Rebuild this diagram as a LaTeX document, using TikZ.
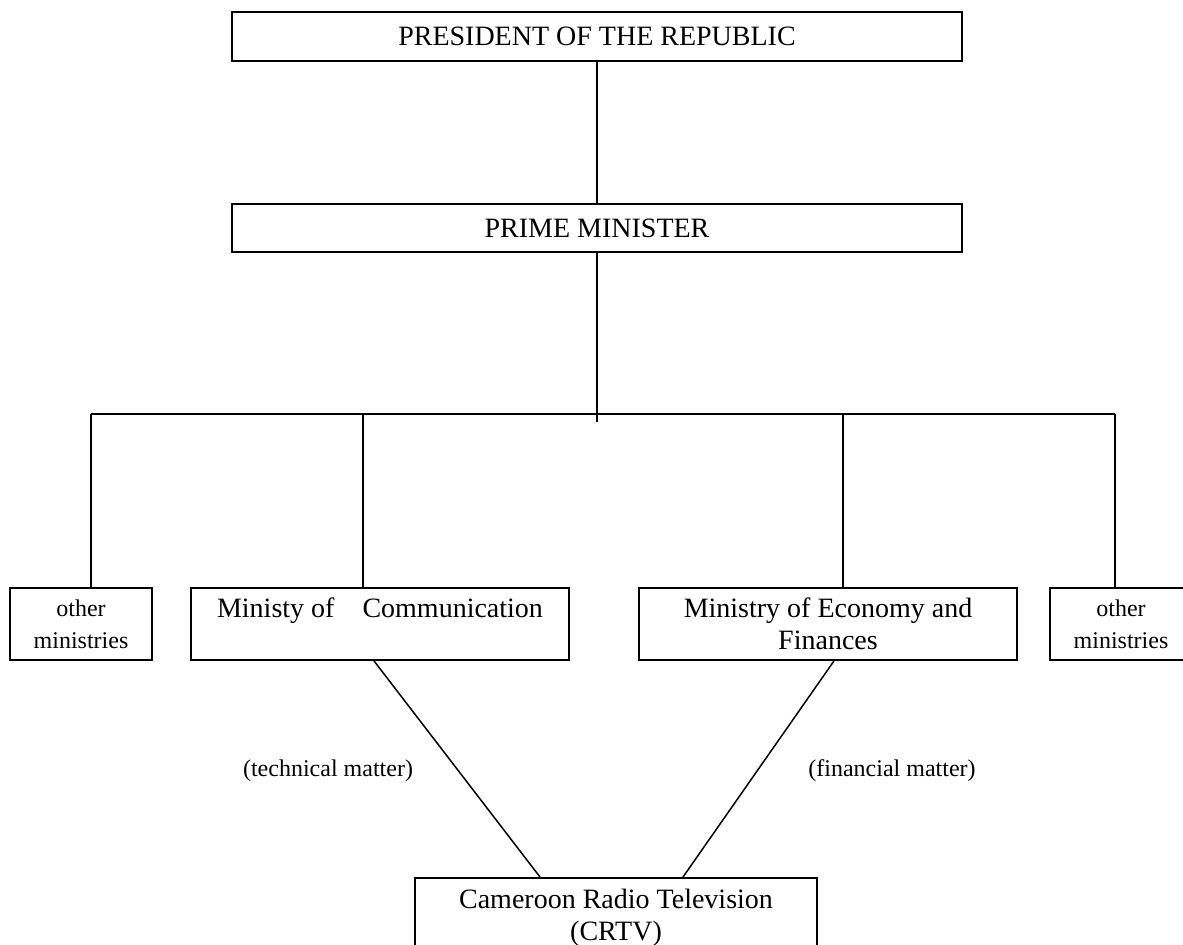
\documentclass[tikz,border=0pt]{standalone}
\usepackage{fontspec}
\setmainfont{Liberation Serif}
\tikzset{box/.style={draw, line width=0.9pt, inner sep=0pt, align=center, font=\fontsize{14}{16}\selectfont},
  smallbox/.style={box, font=\fontsize{12}{16}\selectfont, minimum width=71pt, minimum height=36pt},
  note/.style={font=\fontsize{12}{14}\selectfont}}

\begin{document}
\begin{tikzpicture}[x=0.5pt,y=-0.5pt,line width=0.75pt]
\clip (0,0) rectangle (1183,944);
\node[box, minimum width=365pt, minimum height=24.5pt](pres) at (597,36.5){PRESIDENT OF THE REPUBLIC};
\node[box, minimum width=365pt, minimum height=24pt](pm) at (597,228){PRIME MINISTER};
\draw (pres) -- (pm);
\node[smallbox](other1) at (81,624){other\\ministries};
\node[box, minimum width=189pt, minimum height=36pt](comm) at (380,624){Ministy of\hspace{0.75em} Communication\\\phantom{Finances}};
\node[box, minimum width=189pt, minimum height=36pt](econ) at (828,624){Ministry of Economy and\\Finances};
\node[smallbox](other2) at (1121,624){other\\ministries};
\coordinate (busend) at (597,422);
\draw (pm) -- (busend);
\foreach \x/\n in {91/other1,363/comm,843/econ,1115/other2}{
  \coordinate (top\n) at (\x,414);
  \draw (top\n) -- (top\n |- \n.north);
}
\draw (topother1) -- (topother2);
\node[box, anchor=north, minimum width=201pt, inner ysep=5.5pt](crtv) at (616,877){Cameroon Radio Television\\(CRTV)};
\draw ([xshift=-3pt]comm.south) -- ([xshift=-38pt]crtv.north);
\draw ([xshift=3pt]econ.south) -- ([xshift=33.5pt]crtv.north);
\node[note](tech) at (328,771){(technical matter)};
\node[note](fin) at (892,771){(financial matter)};
\end{tikzpicture}
\end{document}
